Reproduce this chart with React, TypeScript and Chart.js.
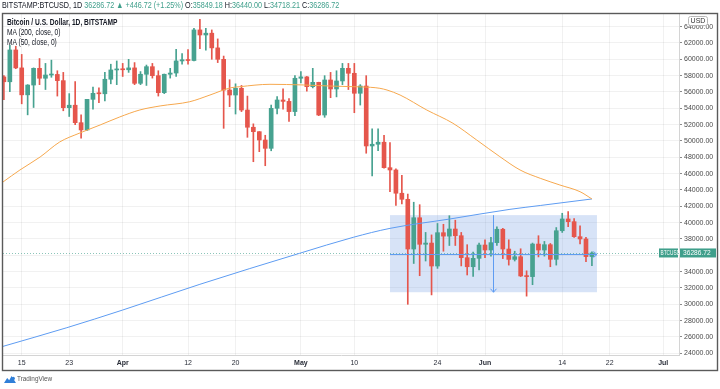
import React, { useEffect, useRef } from 'react';
import { Chart, registerables } from 'chart.js';

Chart.register(...registerables);

// Daily candles, BITSTAMP:BTCUSD. Day index 0 = 15 Mar 2021; first candle = 12 Mar (index -3), last = 19 Jun.
const firstDay = -3;

const opens = [
  57850, 57250, 61150, 58950, 55650, 56850, 58900, 57680, 58080, 58150,
  57390, 54080, 54380, 52240, 51350, 55100, 55840, 55780, 57560, 58700,
  58800, 58720, 58950, 57060, 58170, 59100, 58000, 55920, 58170, 58320,
  59800, 59950, 59850, 63600, 62980, 63200, 61400, 60000, 56240, 55630,
  56450, 53790, 51680, 51140, 50120, 49100, 54000, 55020, 54850, 53600,
  57680, 57850, 56650, 57180, 53180, 57470, 56370, 57350, 58900, 58290,
  55840, 56730, 49390, 49600, 49850, 46730, 46450, 43600, 42860, 36770,
  40600, 37350, 37500, 34690, 38770, 38350, 39220, 38400, 35710, 34600,
  35630, 37260, 36650, 37550, 39190, 36770, 35500, 35830, 33470, 33390,
  37380, 36650, 37300, 35510, 39010, 40450, 40120, 38280, 38000, 35849.18,
];
const highs = [
  58000, 61700, 61600, 60600, 56900, 58950, 60100, 59500, 59900, 58600,
  58400, 55800, 57260, 53200, 55100, 56600, 56500, 58400, 59400, 59800,
  59500, 60000, 59600, 58500, 59300, 59500, 58600, 58200, 58900, 61230,
  60700, 61200, 63800, 64900, 63800, 63600, 62500, 60400, 57500, 57000,
  56800, 55500, 52100, 51150, 50700, 54400, 55450, 56400, 55200, 58000,
  58500, 57900, 58900, 57200, 58000, 58400, 58600, 59500, 59500, 59500,
  56900, 58000, 51500, 51500, 50700, 49800, 46600, 45800, 43500, 42500,
  42200, 38800, 38500, 39900, 39800, 40850, 40300, 38800, 37300, 36400,
  37500, 37900, 38200, 39500, 39300, 37900, 36500, 36800, 34100, 37500,
  38400, 37700, 37450, 39400, 41150, 41340, 40500, 39600, 38200, 36440,
];
const lows = [
  55050, 56050, 58850, 54550, 53200, 54100, 56900, 56300, 57800, 55500,
  53700, 53000, 52000, 50330, 51300, 53900, 54700, 54900, 57000, 56900,
  57900, 58400, 56900, 56900, 56800, 57700, 55500, 55800, 57700, 57900,
  59400, 59400, 59800, 61300, 61130, 60000, 59600, 51550, 54200, 53300,
  53600, 50450, 47460, 48690, 46970, 48800, 53300, 53900, 52400, 53100,
  57100, 56100, 56500, 53100, 52900, 55300, 55400, 56900, 56300, 53460,
  54400, 48500, 45710, 48800, 46660, 43790, 42100, 42300, 30000, 35000,
  33500, 35300, 31150, 34400, 36500, 37200, 37200, 34700, 33590, 33400,
  34200, 35700, 35900, 37200, 35600, 34800, 35300, 33400, 31000, 32400,
  35800, 35900, 34600, 34800, 38800, 39500, 38200, 37400, 35220, 34718.21,
];
const closes = [
  57250, 61150, 58950, 55650, 56850, 58900, 57680, 58080, 58150, 57390,
  54080, 54380, 52240, 51350, 55100, 55840, 55780, 57560, 58700, 58800,
  58720, 58950, 57060, 58170, 59100, 58000, 55920, 58170, 58320, 59800,
  59950, 59850, 63600, 62980, 63200, 61400, 60000, 56240, 55630, 56450,
  53790, 51680, 51140, 50120, 49100, 54000, 55020, 54850, 53600, 57680,
  57850, 56650, 57180, 53180, 57470, 56370, 57350, 58900, 58290, 55840,
  56730, 49390, 49600, 49850, 46730, 46450, 43600, 42860, 36770, 40600,
  37350, 37500, 34690, 38770, 38350, 39220, 38400, 35710, 34600, 35630,
  37260, 36650, 37550, 39190, 36770, 35500, 35830, 33470, 33390, 37380,
  36650, 37300, 35510, 39010, 40450, 40120, 38280, 38000, 35840, 36286.72,
];

// Moving averages (day index, value)
const ma50Days = [-3.15, -0.3, 3.1, 6.4, 9.8, 13.2, 16.5, 19.9, 23.3, 28.3, 31.7, 35.1, 36.75, 41.8, 47.4, 51.9, 55.8, 58.7, 60.3, 61.5, 63.7, 68.2, 72.6, 76.6, 80.5, 83.9, 87.3, 90.6, 94, 96];
const ma50Values = [44980, 46450, 48040, 49880, 50980, 51960, 52940, 53800, 54290, 54810, 55630, 56500, 56650, 56940, 56860, 56730, 56650, 56575, 56450, 56240, 55630, 53790, 52170, 50120, 48080, 46450, 45430, 44610, 43790, 42900];
const ma200Days = [-3.15, 7.6, 17, 30, 46.8, 55.8, 62, 72.1, 82.2, 87.3, 96];
const ma200Values = [24850, 27135, 29300, 32450, 36250, 38200, 39300, 40450, 41630, 42100, 42900];

// Axes
const xMin = -3.15;
const xMax = 110.66;
const xTickDays = [0, 8, 17, 28, 36, 47, 56, 70, 78, 91, 99, 108];
const xTickLabels = ['15', '23', 'Apr', '12', '20', 'May', '10', '24', 'Jun', '14', '22', 'Jul'];
const monthLabels = ['Apr', 'May', 'Jun', 'Jul'];
const yMin = 23792;
const yMax = 65550;
const yTicks = [24000, 26000, 28000, 30000, 32000, 34000, 36000, 38000, 40000, 42000, 44000, 46000, 48000, 50000, 52000, 54000, 56000, 58000, 60000, 62000, 64000];

// Drawing tools on the chart
const rangeFromDay = 62;
const rangeToDay = 96.85;
const rangeTop = 40920;
const rangeBottom = 31480;
const rangeMid = 36170;
const arrowDay = 79.4;
const lastPrice = 36286.72;

const UP = '#47a290';
const DOWN = '#e5564c';
const TEAL = '#3f9f8b';
const ORANGE = '#f6a84e';
const BLUE = '#5e9cf2';
const GRID = 'rgba(0,0,0,0.055)';
const AXIS_LINE = '#d4d4d4';
const FONT = "'Liberation Sans', Arial, sans-serif";

function narrowText(ctx: any, text: string, x: number, y: number, sx: number) {
  ctx.save();
  ctx.translate(x, y);
  ctx.scale(sx, 1);
  ctx.fillText(text, 0, 0);
  ctx.restore();
}

const overlay = {
  id: 'tvOverlay',
  beforeDatasetsDraw(chart: any) {
    const { ctx, chartArea: a, scales } = chart;
    const x = scales.x;
    const y = scales.y;
    ctx.save();
    ctx.beginPath();
    ctx.rect(a.left, a.top, a.width, a.height);
    ctx.clip();
    const x1 = x.getPixelForValue(rangeFromDay);
    const x2 = x.getPixelForValue(rangeToDay);
    const y1 = y.getPixelForValue(rangeTop);
    const y2 = y.getPixelForValue(rangeBottom);
    ctx.fillStyle = 'rgba(88,140,220,0.24)';
    ctx.fillRect(x1, y1, x2 - x1, y2 - y1);
    const ly = Math.round(y.getPixelForValue(lastPrice)) + 0.5;
    ctx.strokeStyle = 'rgba(63,159,139,0.6)';
    ctx.lineWidth = 1;
    ctx.setLineDash([1, 2]);
    ctx.beginPath();
    ctx.moveTo(a.left, ly);
    ctx.lineTo(a.right, ly);
    ctx.stroke();
    ctx.restore();
  },
  afterDatasetsDraw(chart: any) {
    const { ctx, scales } = chart;
    const x = scales.x;
    const y = scales.y;
    ctx.save();
    ctx.strokeStyle = BLUE;
    ctx.lineWidth = 1;
    const x1 = x.getPixelForValue(rangeFromDay);
    const x2 = x.getPixelForValue(rangeToDay);
    const my = Math.round(y.getPixelForValue(rangeMid)) + 0.5;
    ctx.beginPath();
    ctx.moveTo(x1, my);
    ctx.lineTo(x2, my);
    ctx.moveTo(x2 - 3.5, my - 3);
    ctx.lineTo(x2, my);
    ctx.lineTo(x2 - 3.5, my + 3);
    ctx.stroke();
    const ax = Math.round(x.getPixelForValue(arrowDay)) + 0.5;
    const at = y.getPixelForValue(rangeTop);
    const ab = y.getPixelForValue(rangeBottom);
    ctx.beginPath();
    ctx.moveTo(ax, at);
    ctx.lineTo(ax, ab);
    ctx.moveTo(ax - 3, ab - 3.5);
    ctx.lineTo(ax, ab);
    ctx.lineTo(ax + 3, ab - 3.5);
    ctx.stroke();
    ctx.restore();
  },
  afterDraw(chart: any) {
    const { ctx, chartArea: a, scales } = chart;
    const y = scales.y;
    ctx.save();
    const ly = y.getPixelForValue(lastPrice);
    ctx.fillStyle = TEAL;
    ctx.fillRect(659, ly - 4.5, 19, 9);
    ctx.fillRect(a.right + 1, ly - 4.5, 36, 9);
    ctx.fillStyle = '#ffffff';
    ctx.font = `7px ${FONT}`;
    ctx.textBaseline = 'middle';
    ctx.textAlign = 'left';
    narrowText(ctx, 'BTCUSD', 660.5, ly + 0.5, 0.68);
    narrowText(ctx, lastPrice.toFixed(2), a.right + 4, ly + 0.5, 0.95);
    ctx.fillStyle = '#ffffff';
    ctx.strokeStyle = '#b8b8b8';
    ctx.lineWidth = 1;
    ctx.beginPath();
    ctx.roundRect(688.5, 16.5, 19, 9, 2);
    ctx.fill();
    ctx.stroke();
    ctx.fillStyle = '#333';
    ctx.textAlign = 'center';
    ctx.fillText('USD', 698, 21.5);
    ctx.strokeStyle = '#5a5a5a';
    ctx.lineWidth = 1.4;
    ctx.strokeRect(2.5, 13.5, 715, 357);
    ctx.restore();
  },
};

export default function App() {
  const ref = useRef<HTMLCanvasElement>(null);

  useEffect(() => {
    document.body.style.margin = '0';
    const canvas = ref.current;
    if (!canvas) return;
    const days = opens.map((_, i) => firstDay + i);
    const colors = opens.map((o, i) => (closes[i] >= o ? UP : DOWN));
    const chart = new Chart(canvas, {
      type: 'bar',
      data: {
        datasets: [
          {
            type: 'line',
            label: 'MA (50, close, 0)',
            data: ma50Days.map((d, i) => ({ x: d, y: ma50Values[i] })),
            borderColor: ORANGE,
            borderWidth: 1,
            pointRadius: 0,
            cubicInterpolationMode: 'monotone',
            order: 0,
          } as any,
          {
            type: 'line',
            label: 'MA (200, close, 0)',
            data: ma200Days.map((d, i) => ({ x: d, y: ma200Values[i] })),
            borderColor: BLUE,
            borderWidth: 1,
            pointRadius: 0,
            cubicInterpolationMode: 'monotone',
            order: 1,
          } as any,
          {
            label: 'body',
            data: days.map((d, i) => ({ x: d, y: [opens[i], closes[i]] })),
            backgroundColor: colors,
            barThickness: 4,
            minBarLength: 1,
            grouped: false,
            order: 2,
          } as any,
          {
            label: 'wick',
            data: days.map((d, i) => ({ x: d, y: [lows[i], highs[i]] })),
            backgroundColor: colors,
            barThickness: 1,
            grouped: false,
            order: 3,
          } as any,
        ],
      },
      options: {
        animation: false,
        responsive: false,
        devicePixelRatio: 1,
        layout: { padding: { left: 3, top: 14, right: 2, bottom: 19 } },
        plugins: { legend: { display: false }, tooltip: { enabled: false }, title: { display: false } },
        scales: {
          x: {
            type: 'linear',
            position: 'bottom',
            offset: false,
            min: xMin,
            max: xMax,
            afterBuildTicks: (s: any) => {
              s.ticks = xTickDays.map((v) => ({ value: v }));
            },
            afterFit: (s: any) => {
              s.height = 15;
            },
            grid: { color: GRID, drawTicks: false, offset: false },
            border: { color: AXIS_LINE },
            ticks: {
              autoSkip: false,
              maxRotation: 0,
              padding: 4,
              color: '#2a2e39',
              font: (c: any) => ({
                family: FONT,
                size: 7,
                weight: monthLabels.includes(xTickLabels[c.index]) ? 'bold' : 'normal',
              }),
              callback: (_v: any, i: number) => xTickLabels[i],
            },
          },
          y: {
            type: 'linear',
            position: 'right',
            min: yMin,
            max: yMax,
            afterBuildTicks: (s: any) => {
              s.ticks = yTicks.map((v) => ({ value: v }));
            },
            afterFit: (s: any) => {
              s.width = 39;
            },
            grid: { color: GRID, tickLength: 3, tickColor: '#8a8a8a' },
            border: { color: AXIS_LINE },
            ticks: {
              padding: 2,
              color: '#4a4a4a',
              font: { family: FONT, size: 7 },
              callback: (v: any) => Number(v).toFixed(2),
            },
          },
        },
      } as any,
      plugins: [overlay],
    });
    return () => chart.destroy();
  }, []);

  const narrow: React.CSSProperties = { transform: 'scaleX(0.8)', transformOrigin: '0 0', whiteSpace: 'nowrap' };

  return (
    <div style={{ position: 'relative', width: 720, height: 389, background: '#fff', overflow: 'hidden', fontFamily: FONT }}>
      <canvas ref={ref} width={720} height={389} style={{ position: 'absolute', left: 0, top: 0, width: 720, height: 389 }} />
      <div style={{ ...narrow, position: 'absolute', left: 2, top: 0, fontSize: 9, lineHeight: '11px', color: '#131722' }}>
        BITSTAMP:BTCUSD, 1D <span style={{ color: TEAL }}>36286.72 ▲ +446.72 (+1.25%)</span> O:<span style={{ color: TEAL }}>35849.18</span> H:<span style={{ color: TEAL }}>36440.00</span> L:<span style={{ color: TEAL }}>34718.21</span> C:<span style={{ color: TEAL }}>36286.72</span>
      </div>
      <div style={{ ...narrow, position: 'absolute', left: 7, top: 16.5, fontSize: 8.3, lineHeight: '10.4px', color: '#131722' }}>
        <div style={{ fontWeight: 'bold' }}>Bitcoin / U.S. Dollar, 1D, BITSTAMP</div>
        <div>MA (200, close, 0)</div>
        <div>MA (50, close, 0)</div>
      </div>
      <svg width={12} height={8} viewBox="0 0 12 8" style={{ position: 'absolute', left: 4, top: 375 }}>
        <path d="M0 8 L3.2 3 L5.2 5.2 L7.6 1 L12 8 Z" fill="#2f7fd8" />
        <circle cx={9.3} cy={3.4} r={1.6} fill="#2f7fd8" />
      </svg>
      <div style={{ ...narrow, position: 'absolute', left: 17, top: 374, fontSize: 8, lineHeight: '10px', color: '#555' }}>TradingView</div>
    </div>
  );
}
